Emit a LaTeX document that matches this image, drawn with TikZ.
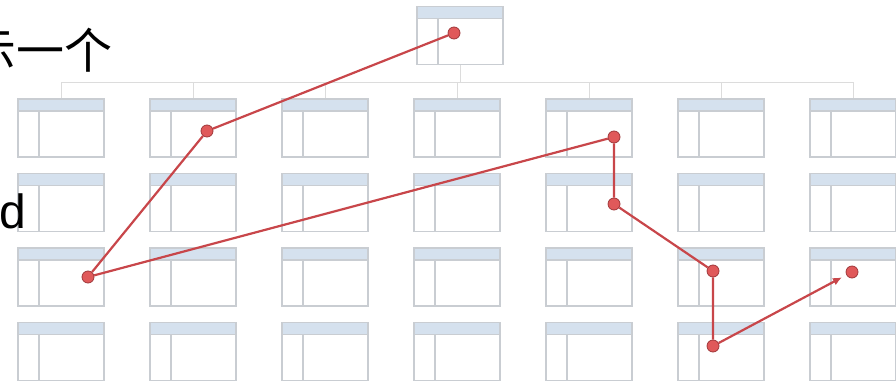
\documentclass[tikz,border=0pt]{standalone}
\usepackage{fontspec}
\setmainfont{Liberation Sans}
\newfontfamily\cjk{Noto Sans CJK SC}
\usetikzlibrary{arrows.meta}
\definecolor{GridLine}{HTML}{C9CDD2}
\definecolor{HeadBlue}{HTML}{D5E1EE}
\definecolor{TreeGray}{HTML}{DCDCDC}
\definecolor{PathRed}{HTML}{C8464A}
\definecolor{DotRed}{HTML}{E0595A}

\begin{document}
\begin{tikzpicture}[x=1pt,y=-1pt,
  tbl/.style={draw=GridLine,line width=1.2pt,fill=white,minimum width=86pt,minimum height=58pt,inner sep=0pt,
    path picture={
      \fill[HeadBlue] (path picture bounding box.north west) rectangle ([yshift=-12pt]path picture bounding box.north east);
      \draw[GridLine,line width=1.2pt] ([yshift=-12pt]path picture bounding box.north west) -- ([yshift=-12pt]path picture bounding box.north east);
      \draw[GridLine,line width=1.2pt] ([xshift=21pt,yshift=-12pt]path picture bounding box.north west) -- ([xshift=21pt]path picture bounding box.south west);}},
  tree/.style={draw=TreeGray,line width=0.8pt},
  dot/.style={circle,fill=DotRed,draw=PathRed!80!black,line width=0.8pt,minimum size=12pt,inner sep=0pt},
  hop/.style={draw=PathRed,line width=2.2pt},
  word/.style={inner sep=0pt,font=\fontsize{48}{58}\selectfont}
]
\useasboundingbox (0,0) rectangle (896,380);
\clip (0,0) rectangle (896,380);

\node[tbl] (root) at (460,35.5) {};
\foreach \r in {1,...,4}
  \foreach \c in {1,...,7}
    \node[tbl] (t\r\c) at ({61+132*(\c-1)},{128+74.5*(\r-1)}) {};

\coordinate (bus) at (460,82);
\draw[tree] (root.south) -- (root.south |- bus);
\draw[tree] (t11.north |- bus) -- (t17.north |- bus);
\foreach \c in {1,...,7}
  \draw[tree] (t1\c.north |- bus) -- (t1\c.north);

\node[dot] (p1) at (454,33) {};
\node[dot] (p2) at (207,131) {};
\node[dot] (p3) at (88,277) {};
\node[dot] (p4) at (614,137) {};
\node[dot] (p5) at (614,204) {};
\node[dot] (p6) at (713,271) {};
\node[dot] (p7) at (713,346) {};
\node[dot] (p8) at (852,272) {};
\draw[hop] (p1) -- (p2) -- (p3) -- (p4) -- (p5) -- (p6) -- (p7);
\draw[hop,-{Latex[length=9pt,width=8pt]},shorten >=5pt] (p7) -- (p8);

\node[word,anchor=base west] (cap) at (-32,68) {\cjk 示一个};
\node[word,anchor=base east] (tail) at (26,228) {d};
\end{tikzpicture}
\end{document}
